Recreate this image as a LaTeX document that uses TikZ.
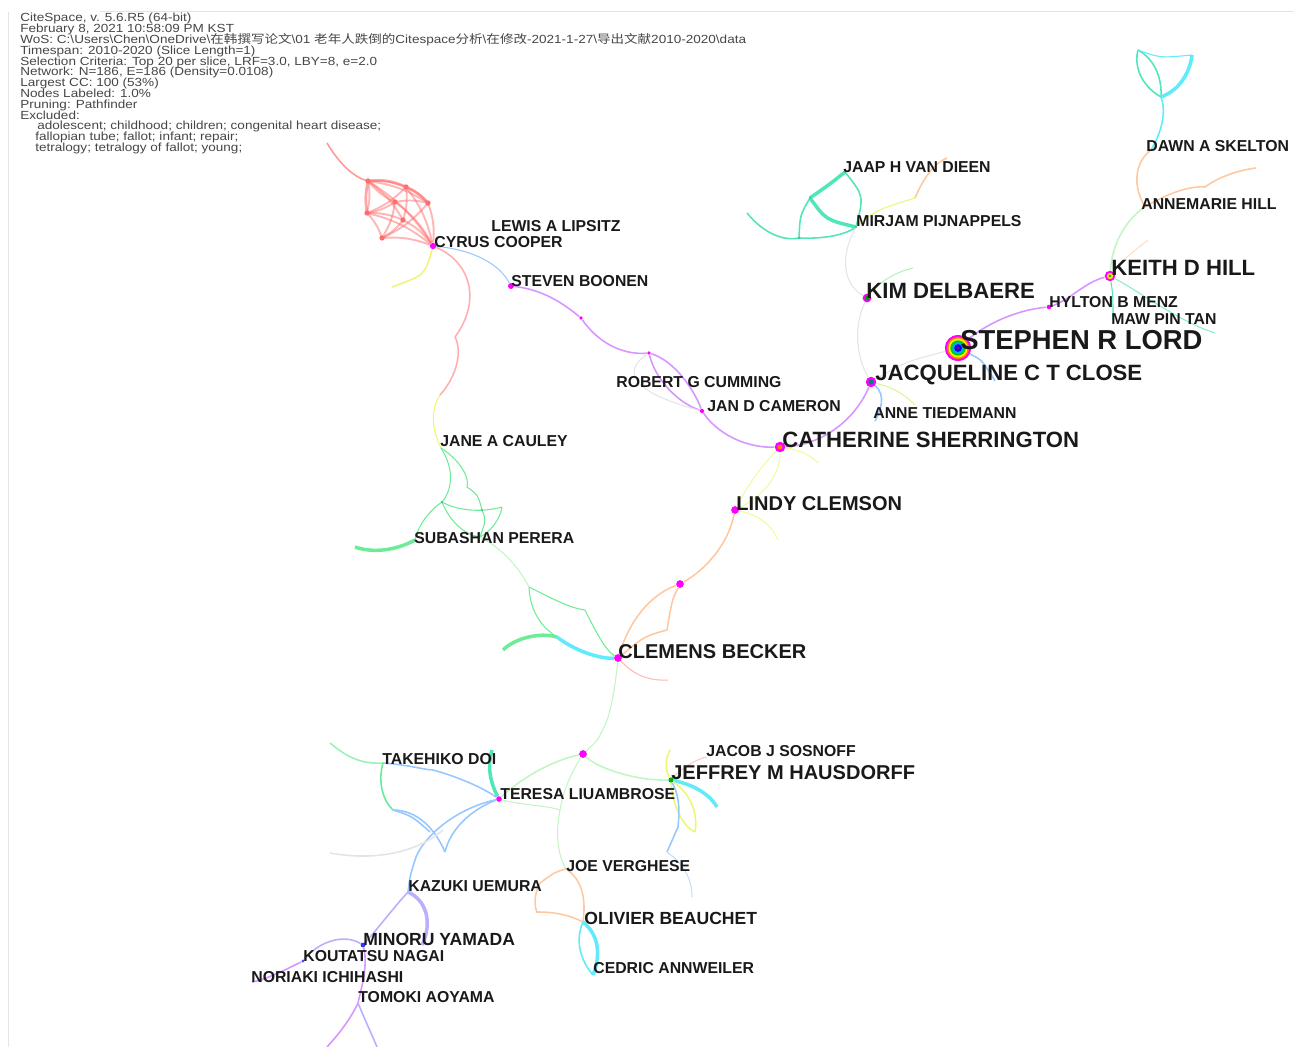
\documentclass[tikz,border=0pt]{standalone}
\usepackage{fontspec}
\setmainfont{Liberation Sans}
\newfontfamily\headfont{Liberation Sans}[FakeStretch=1.15]
\newfontfamily\cjk{Noto Sans CJK SC}[FakeStretch=1.15]
\newcommand\headstyle{\headfont\fontsize{6.7}{6.15}\selectfont\lineskiplimit=-10pt\relax}
\definecolor{dotMag}{RGB}{255,0,255}
\definecolor{labInk}{RGB}{25,25,25}
\definecolor{headInk}{RGB}{70,70,70}
\definecolor{cRed}{RGB}{255,110,110}
\definecolor{cBlue}{RGB}{150,200,255}
\definecolor{cPurp}{RGB}{215,150,255}
\definecolor{cLav}{RGB}{185,175,255}
\definecolor{cGreen}{RGB}{110,235,150}
\definecolor{cLGreen}{RGB}{195,245,195}
\definecolor{cTeal}{RGB}{80,230,185}
\definecolor{cCyan}{RGB}{95,235,250}
\definecolor{cOrange}{RGB}{255,200,160}
\definecolor{cYellow}{RGB}{240,245,120}
\definecolor{cGray}{RGB}{228,228,228}
\tikzset{
  eg/.style={line width=0.9pt},
  ethin/.style={line width=0.6pt},
  ethick/.style={line width=2pt},
  dot/.style={circle, fill=dotMag, inner sep=0pt, minimum size=#1},
  dot/.default=3.5pt,
  rdot/.style={circle, fill=cRed, inner sep=0pt, minimum size=3pt},
  labS/.style={anchor=west, inner sep=0pt, text=labInk, font=\bfseries\fontsize{9}{9}\selectfont},
  labM/.style={labS, font=\bfseries\fontsize{10}{10}\selectfont},
  labL/.style={labS, font=\bfseries\fontsize{11.4}{11.4}\selectfont},
  labXL/.style={labS, font=\bfseries\fontsize{12.6}{12.6}\selectfont},
  labXXL/.style={labS, font=\bfseries\fontsize{15.6}{15.6}\selectfont}
}
\begin{document}
\begin{tikzpicture}[x=0.02cm, y=-0.02cm]
\useasboundingbox (0,0) rectangle (1294,1047);
% frame lines
\draw[cGray, line width=0.5pt] (100,11) -- (1294,11);
\draw[cGray, line width=0.5pt] (8,12) -- (8,1047);

% header
\node[anchor=north west, inner sep=0pt, align=left, text=headInk,
  font=\headstyle] (head) at (20,13) {%
CiteSpace, v. 5.6.R5 (64-bit)\\
February 8, 2021 10:58:09 PM KST\\
WoS: C:\textbackslash Users\textbackslash Chen\textbackslash OneDrive\textbackslash{\cjk 在韩撰写论文}\textbackslash 01 {\cjk 老年人跌倒的}Citespace{\cjk 分析}\textbackslash{\cjk 在修改}-2021-1-27\textbackslash{\cjk 导出文献}2010-2020\textbackslash data\\
Timespan: 2010-2020 (Slice Length=1)\\
Selection Criteria: Top 20 per slice, LRF=3.0, LBY=8, e=2.0\\
Network: N=186, E=186 (Density=0.0108)\\
Largest CC: 100 (53\%)\\
Nodes Labeled: 1.0\%\\
Pruning: Pathfinder\\
Excluded:\\
\hspace*{3.4mm}adolescent; childhood; children; congenital heart disease;\\
\hspace*{3mm}fallopian tube; fallot; infant; repair;\\
\hspace*{3mm}tetralogy; tetralogy of fallot; young;};

% named points of the network
\coordinate (r1) at (368,181);
\coordinate (r2) at (406,187);
\coordinate (r3) at (428,203);
\coordinate (r4) at (367,213);
\coordinate (r5) at (403,220);
\coordinate (r6) at (382,238);
\coordinate (r7) at (395,202);
\coordinate (rtail) at (327,143);
\coordinate (k1) at (455,337);
\coordinate (k2) at (440,395);
\coordinate (ycoop) at (392,287);
\coordinate (cauley) at (441,448);
\coordinate (mv) at (845,172);
\coordinate (ma) at (810,198);
\coordinate (pijn) at (856,227);
\coordinate (mb) at (799,238);
\coordinate (mfree) at (747,213);
\coordinate (ypijn) at (915,198);
\coordinate (opijn) at (947,158);
\coordinate (gdel) at (913,268);
\coordinate (annhill) at (1145,207);
\coordinate (skelton) at (1151,150);
\coordinate (tb) at (1161,97);
\coordinate (tl) at (1138,50);
\coordinate (tr) at (1192,55);
\coordinate (c1) at (442,502);
\coordinate (c2) at (482,510);
\coordinate (c3) at (502,507);
\coordinate (c4) at (480,537);
\coordinate (pp) at (415,540);
\coordinate (g1) at (529,587);
\coordinate (g2) at (557,637);
\coordinate (g3) at (585,610);
\coordinate (g4) at (560,810);
\coordinate (doi) at (383,763);
\coordinate (d1) at (393,810);
\coordinate (d2) at (445,852);
\coordinate (verg) at (566,869);
\coordinate (o1) at (540,883);
\coordinate (o2) at (537,912);
\coordinate (beau) at (583,922);
\coordinate (annw) at (593,975);
\coordinate (aoy) at (358,1003);

% dots
\node[dot=3.6pt] (cooper) at (433,246) {};
\node[dot=3.4pt] (boonen) at (511,286) {};
\node[dot=2.2pt] (m1) at (581,318) {};
\node[dot=2.2pt] (m2) at (649,353) {};
\node[dot=2.4pt] (cameron) at (702,411) {};
\node[dot=2.6pt] (menz) at (1049,307) {};
\node[dot=4.4pt] (clemson) at (735,510) {};
\node[dot=4.4pt] (m3) at (680,584) {};
\node[dot=4.4pt] (becker) at (618,658) {};
\node[dot=4.4pt] (m4) at (583,754) {};
\node[dot=3.2pt] (liu) at (499,799) {};
\node[dot=3pt, fill=green!70!black] (hausd) at (671,780) {};
\node[dot=2.8pt, fill=blue!80] (yamada) at (363,945) {};
\node[dot=1.8pt, fill=blue!70] (nagai) at (303,961) {};
\node[dot=6pt] (sherr) at (780,447) {};
\node[dot=6pt] (close) at (871,382) {};
\node[dot=5pt] (delb) at (867,298) {};
\node[dot=6pt] (hill) at (1110,276) {};
\node[dot=14.8pt] (lord) at (958,348) {};

% red clique
\begin{scope}[cRed, opacity=0.5, line width=1.1pt]
\foreach \a/\b in {r1/r2, r2/r3, r1/r4, r4/r6, r6/cooper, r3/cooper, r1/r5,
  r2/r5, r4/r5, r5/cooper, r2/cooper, r1/cooper, r4/cooper, r7/r3, r7/r6,
  r1/r3, r2/r4, r3/r6, r5/r6, r7/cooper, r7/r1, r7/r4}
  \draw (\a) to[bend left=12] (\b);
\end{scope}
\draw[cRed, line width=1.6pt, opacity=0.6] (r4) to[bend left=10] (r1) to[bend left=15] (r2) to[bend left=12] (r3);
\draw[cRed!70, eg] (rtail) .. controls (340,165) and (355,178) .. (r1);
\foreach \p in {r1,r2,r3,r4,r5,r6,r7} \node[rdot] at (\p) {};

% Cooper down to Cauley
\draw[cRed!55, eg] (cooper) .. controls (470,262) and (482,300) .. (k1);
\draw[cRed!55, eg] (k1) .. controls (462,350) and (458,375) .. (k2);
\draw[cYellow, ethin] (k2) .. controls (430,410) and (432,430) .. (cauley);
\draw[cYellow, eg] (cooper) .. controls (425,275) .. (ycoop);
\draw[cBlue, ethin] (cooper) .. controls (475,250) and (500,265) .. (boonen);

% Boonen to Sherrington
\draw[cPurp, eg] (boonen) .. controls (545,290) and (565,305) .. (m1);
\draw[cPurp, eg] (m1) .. controls (600,345) and (625,355) .. (m2);
\draw[cPurp, eg] (m2) .. controls (672,360) and (692,385) .. (cameron);
\draw[cPurp, eg] (m2) .. controls (655,378) and (676,402) .. (cameron);
\draw[cGray, ethin] (m2) .. controls (610,380) and (660,400) .. (cameron);
\draw[cPurp, eg] (cameron) .. controls (720,437) and (750,448) .. (sherr);
\draw[cPurp, eg] (sherr) .. controls (822,445) and (855,420) .. (close);

% Close, Lord, Hill
\draw[cBlue, eg] (close) .. controls (886,395) and (881,410) .. (875,421);
\draw[cYellow!60!cLGreen, ethin] (close) .. controls (895,388) and (905,395) .. (915,405);
\draw[cGray, ethin] (close) .. controls (905,362) .. (lord);
\draw[cPurp, eg] (lord) .. controls (985,325) and (1015,310) .. (menz);
\draw[cPurp, eg] (menz) .. controls (1070,300) and (1085,282) .. (hill);
\draw[cBlue, eg] (lord) .. controls (982,360) .. (995,381);
\draw[cLGreen, eg] (hill) .. controls (1112,245) and (1125,220) .. (annhill);
\draw[cOrange, eg] (annhill) .. controls (1132,185) and (1135,162) .. (skelton);
\draw[cCyan, eg] (skelton) .. controls (1163,130) and (1166,110) .. (tb);
\draw[cTeal, eg] (tb) .. controls (1140,85) and (1134,65) .. (tl);
\draw[cTeal, eg] (tb) .. controls (1162,80) and (1156,60) .. (tl);
\draw[cCyan, ethick] (tb) .. controls (1180,90) and (1190,72) .. (tr);
\draw[cCyan, ethin] (tl) .. controls (1160,58) .. (tr);
\draw[cOrange, eg] (annhill) .. controls (1170,192) and (1190,186) .. (1205,187)
  .. controls (1220,176) and (1240,170) .. (1256,168);
\draw[cOrange!60, ethin] (hill) .. controls (1125,258) .. (1148,240);
\draw[cTeal!70, ethin] (hill) .. controls (1140,292) and (1180,322) .. (1215,333);
\draw[cTeal, ethin] (hill) .. controls (1113,295) .. (1113,320);

% Pijnappels group
\draw[cTeal, ethick] (mv) .. controls (830,184) .. (ma);
\draw[cTeal, eg] (mv) .. controls (864,196) .. (pijn);
\draw[cTeal, ethick] (ma) .. controls (826,220) .. (pijn);
\draw[cTeal, eg] (ma) .. controls (800,215) .. (mb);
\draw[cTeal, eg] (mfree) .. controls (765,235) and (785,241) .. (mb)
  .. controls (825,239) and (845,235) .. (pijn);
\draw[cYellow, ethin] (pijn) .. controls (876,210) .. (ypijn);
\draw[cOrange, eg] (ypijn) .. controls (925,175) and (935,163) .. (opijn);
\draw[cGray, ethin] (pijn) .. controls (838,260) and (845,285) .. (delb);
\draw[cGray, ethin] (delb) .. controls (852,330) and (858,360) .. (close);
\draw[cLGreen!80!cGreen, ethin] (delb) .. controls (880,281) and (896,272) .. (gdel);

% Sherrington down to Becker
\draw[cYellow!70, ethin] (sherr) .. controls (758,470) and (745,490) .. (clemson);
\draw[cYellow!70, ethin] (sherr) .. controls (780,475) and (765,495) .. (clemson);
\draw[cYellow!70, ethin] (sherr) .. controls (800,450) and (810,455) .. (818,463);
\draw[cYellow!70, ethin] (clemson) .. controls (760,515) and (772,526) .. (778,540);
\draw[cOrange, eg] (clemson) .. controls (728,545) and (705,570) .. (m3);
\draw[cOrange, eg] (m3) .. controls (650,595) and (630,620) .. (becker);
\draw[cOrange, eg] (m3) .. controls (672,600) .. (667,630) .. controls (645,636) .. (becker);

% Cauley group
\draw[cGreen, ethin] (cauley) .. controls (455,470) and (452,490) .. (c1);
\draw[cGreen, ethin] (cauley) .. controls (460,460) and (470,478) .. (467,487)
  .. controls (478,495) .. (c2);
\draw[cGreen, ethin] (c1) .. controls (460,512) and (485,512) .. (c3);
\draw[cGreen, ethin] (c1) .. controls (450,522) and (465,535) .. (c4);
\draw[cGreen, ethin] (c3) .. controls (500,520) and (490,532) .. (c4);
\draw[cGreen, ethin] (c2) .. controls (486,520) .. (c4);
\draw[cGreen, ethin] (c1) .. controls (430,510) and (418,525) .. (pp);
\draw[cGreen, ethick] (pp) .. controls (395,551) and (372,553) .. (355,547);
\draw[cLGreen, ethin] (c4) .. controls (505,550) and (520,570) .. (g1);
\draw[cGreen, ethin] (g1) .. controls (530,610) and (540,626) .. (g2);
\draw[cGreen, ethin] (g1) .. controls (555,600) and (570,608) .. (g3)
  .. controls (595,630) and (605,650) .. (becker);
\draw[cCyan, ethick] (g2) .. controls (575,651) and (600,659) .. (becker);
\draw[cGreen, ethick] (g2) .. controls (540,632) and (515,638) .. (503,650);
\draw[cRed!50, ethin] (becker) .. controls (635,676) and (650,681) .. (668,680);
\draw[cLGreen, ethin] (becker) .. controls (615,690) and (610,715) .. (605,725)
  .. controls (598,740) .. (m4);

% Liuambrose and Hausdorff
\draw[cLGreen, eg] (m4) .. controls (555,760) and (525,775) .. (liu);
\draw[cLGreen, eg] (m4) .. controls (600,770) and (640,781) .. (hausd);
\draw[cLGreen, ethin] (m4) .. controls (570,775) and (563,792) .. (g4);
\draw[cLGreen, ethin] (g4) .. controls (555,835) and (558,855) .. (verg);
\draw[cLGreen, ethin] (liu) .. controls (520,805) and (545,805) .. (g4);
\draw[cGreen!70, eg] (330,743) .. controls (350,760) and (365,764) .. (doi);
\draw[cGreen!80!cTeal, eg] (doi) .. controls (378,780) and (382,800) .. (d1);
\draw[cTeal, ethick] (492,750) .. controls (487,765) and (490,782) .. (liu);
\draw[cBlue, eg] (doi) .. controls (410,765) and (425,770) .. (433,770)
  .. controls (455,776) and (480,786) .. (liu);
\draw[cBlue, eg] (d1) .. controls (412,810) and (432,822) .. (d2);
\draw[cBlue, eg] (d1) .. controls (412,816) .. (430,832);
\draw[cBlue, eg] (liu) .. controls (470,810) and (450,830) .. (d2);
\draw[cBlue, eg] (liu) .. controls (450,810) and (420,842) .. (415,860)
  .. controls (410,876) .. (408,892);
\draw[cGray, eg] (330,853) .. controls (380,862) and (420,850) .. (443,830);
\draw[cLav, eg] (408,892) .. controls (395,906) and (380,926) .. (yamada);
\draw[cLav, ethick] (408,892) .. controls (426,900) and (433,922) .. (422,945);
\draw[cLav, eg] (yamada) .. controls (345,934) and (320,940) .. (nagai);
\draw[cPurp, eg] (nagai) .. controls (285,970) and (265,980) .. (252,982);
\draw[cPurp, eg] (yamada) .. controls (368,965) and (362,985) .. (aoy);
\draw[cPurp, eg] (aoy) .. controls (350,1020) and (338,1035) .. (327,1047);
\draw[cLav, eg] (aoy) .. controls (365,1020) and (372,1035) .. (377,1047);
\draw[cYellow, eg] (670,750) .. controls (664,760) and (666,772) .. (hausd);
\draw[cRed!40, ethin] (hausd) .. controls (685,765) and (700,758) .. (707,757);
\draw[cCyan, ethick] (hausd) .. controls (695,785) and (710,795) .. (717,807);
\draw[cYellow, eg] (hausd) .. controls (672,800) and (680,825) .. (695,832);
\draw[cYellow, eg] (hausd) .. controls (692,795) and (698,815) .. (695,832);
\draw[cBlue, eg] (hausd) .. controls (681,800) and (679,815) .. (678,827)
  .. controls (672,840) .. (667,852);
\draw[cBlue!60, ethin] (667,852) .. controls (685,865) and (692,880) .. (692,897);

% Verghese, Beauchet, Annweiler
\draw[cOrange, eg] (verg) .. controls (583,880) and (586,900) .. (beau);
\draw[cOrange, eg] (verg) .. controls (555,872) .. (o1);
\draw[cOrange, eg] (o1) .. controls (534,895) and (534,905) .. (o2)
  .. controls (555,912) and (570,915) .. (beau);
\draw[cCyan, eg] (beau) .. controls (575,940) and (580,960) .. (annw);
\draw[cCyan, ethick] (beau) .. controls (599,935) and (601,955) .. (annw);

% rings on the big nodes
\foreach \r/\c in {7.4/dotMag, 6.3/orange, 5.4/yellow, 4.4/green!80!black, 3.3/cyan, 2.2/blue, 1.1/violet}
  \fill[\c] (lord.center) circle[radius=\r pt];
\fill[orange] (sherr.center) circle[radius=1.4pt];
\fill[teal] (close.center) circle[radius=1.5pt];
\fill[green!60!black] (delb.center) circle[radius=1.4pt];
\fill[yellow!80!orange] (hill.center) circle[radius=1.8pt];
\fill[green!70!black] (hill.center) circle[radius=0.8pt];
\foreach \p in {mv,ma,pijn,mb,c1,c2,pp} \fill[cTeal!80!black] (\p) circle[radius=0.7pt];

% labels
\node[labS] (lipsitzT) at (491,226) {LEWIS A LIPSITZ};
\node[labS] (cooperT) at (434,242) {CYRUS COOPER};
\node[labS] (boonenT) at (511,281) {STEVEN BOONEN};
\node[labS] (dieenT) at (843,167) {JAAP H VAN DIEEN};
\node[labS] (pijnT) at (856,221) {MIRJAM PIJNAPPELS};
\node[labS] (skeltonT) at (1146,146) {DAWN A SKELTON};
\node[labS] (annhillT) at (1141,204) {ANNEMARIE HILL};
\node[labXL] (hillT) at (1111,268) {KEITH D HILL};
\node[labXL] (delbT) at (866,291) {KIM DELBAERE};
\node[labS] (menzT) at (1049,302) {HYLTON B MENZ};
\node[labS] (tanT) at (1111,319) {MAW PIN TAN};
\node[labXXL] (lordT) at (960,340) {STEPHEN R LORD};
\node[labXL] (closeT) at (875,375) {JACQUELINE C T CLOSE};
\node[labS] (cummingT) at (616,382) {ROBERT G CUMMING};
\node[labS] (cameronT) at (707,406) {JAN D CAMERON};
\node[labS] (tiedT) at (873,413) {ANNE TIEDEMANN};
\node[labXL] (sherrT) at (782,440) {CATHERINE SHERRINGTON};
\node[labS] (cauleyT) at (440,441) {JANE A CAULEY};
\node[labL] (clemsonT) at (736,504) {LINDY CLEMSON};
\node[labS] (pereraT) at (414,538) {SUBASHAN PERERA};
\node[labL] (beckerT) at (618,652) {CLEMENS BECKER};
\node[labS] (sosnoffT) at (706,751) {JACOB J SOSNOFF};
\node[labL] (hausdT) at (671,773) {JEFFREY M HAUSDORFF};
\node[labS] (doiT) at (382,759) {TAKEHIKO DOI};
\node[labS] (liuT) at (500,794) {TERESA LIUAMBROSE};
\node[labS] (vergT) at (566,866) {JOE VERGHESE};
\node[labS] (uemuraT) at (408,886) {KAZUKI UEMURA};
\node[labM] (beauT) at (584,918) {OLIVIER BEAUCHET};
\node[labM] (yamadaT) at (363,939) {MINORU YAMADA};
\node[labS] (nagaiT) at (303,956) {KOUTATSU NAGAI};
\node[labS] (annwT) at (593,968) {CEDRIC ANNWEILER};
\node[labS] (ichiT) at (251,977) {NORIAKI ICHIHASHI};
\node[labS] (aoyT) at (358,997) {TOMOKI AOYAMA};
\end{tikzpicture}
\end{document}
